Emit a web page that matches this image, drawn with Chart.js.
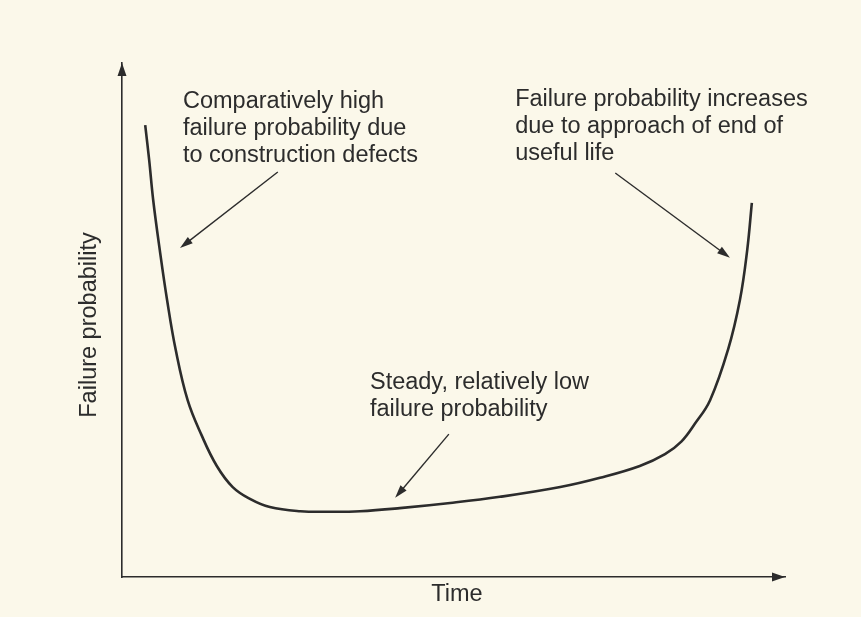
<!DOCTYPE html>
<html>
<head>
<meta charset="utf-8">
<script src="https://cdn.jsdelivr.net/npm/chart.js@4"></script>
<style>
  body { margin: 0; background: #fbf8ea; }
  canvas { display: block; }
</style>
</head>
<body>
<canvas id="bathtub" width="861" height="617"></canvas>
<script>
// Bathtub curve (time 0..100, probability 0..100)
const timeValues = [3.5, 4.1, 4.7, 5.7, 6.8, 8.1, 9.9, 12.0, 14.3, 16.7, 19.3, 22.3, 26.9, 31.4, 35.9, 41.9, 49.5, 57.0, 66.1, 72.1, 78.1, 81.9, 84.4, 86.4, 88.7, 91.4, 93.2, 94.3, 95.0];
const failureValues = [87.9, 81.1, 73.4, 63.6, 53.9, 44.2, 34.4, 27.6, 21.6, 17.5, 15.2, 13.6, 12.8, 12.7, 12.8, 13.4, 14.4, 15.6, 17.5, 19.3, 21.6, 23.9, 26.4, 29.8, 34.4, 44.2, 53.9, 63.6, 72.8];

const axisTitleX = 'Time';
const axisTitleY = 'Failure probability';

// callouts: text lines + arrow from/to, in data units
const notes = [
    { lines: ['Comparatively high', 'failure probability due', 'to construction defects'], at: [9.2, 92.6], from: [23.5, 78.8], to: [8.75, 64.0] },
    { lines: ['Failure probability increases', 'due to approach of end of', 'useful life'], at: [59.3, 92.8], from: [74.4, 78.6], to: [91.7, 62.1] },
    { lines: ['Steady, relatively low', 'failure probability'], at: [37.4, 37.9], from: [49.3, 27.8], to: [41.2, 15.4] }
];

const ink = '#2c2c2c';
const font = '23.5px "Liberation Sans", Arial, sans-serif';

function arrowHead(ctx, x1, y1, x2, y2, len, half) {
    const a = Math.atan2(y2 - y1, x2 - x1);
    ctx.beginPath();
    ctx.moveTo(x2, y2);
    ctx.lineTo(x2 - len * Math.cos(a) + half * Math.sin(a), y2 - len * Math.sin(a) - half * Math.cos(a));
    ctx.lineTo(x2 - len * Math.cos(a) - half * Math.sin(a), y2 - len * Math.sin(a) + half * Math.cos(a));
    ctx.closePath();
    ctx.fill();
}

const decorations = {
    id: 'decorations',
    afterDatasetsDraw(chart) {
        const { ctx, chartArea: area, scales: { x, y } } = chart;
        ctx.save();
        ctx.fillStyle = ink;
        ctx.strokeStyle = ink;

        // arrowheads on axes
        arrowHead(ctx, area.left, area.top + 20, area.left, area.top, 13, 4.5);
        arrowHead(ctx, area.right - 20, area.bottom, area.right, area.bottom, 13, 4.5);

        // callouts
        ctx.font = font;
        ctx.textAlign = 'left';
        ctx.textBaseline = 'middle';
        ctx.lineWidth = 1.4;
        notes.forEach(n => {
            const tx = x.getPixelForValue(n.at[0]);
            const ty = y.getPixelForValue(n.at[1]);
            n.lines.forEach((line, i) => ctx.fillText(line, tx, ty + i * 27));
            const x1 = x.getPixelForValue(n.from[0]), y1 = y.getPixelForValue(n.from[1]);
            const x2 = x.getPixelForValue(n.to[0]), y2 = y.getPixelForValue(n.to[1]);
            const a = Math.atan2(y2 - y1, x2 - x1);
            ctx.beginPath();
            ctx.moveTo(x1, y1);
            ctx.lineTo(x2 - 8 * Math.cos(a), y2 - 8 * Math.sin(a));
            ctx.stroke();
            arrowHead(ctx, x1, y1, x2, y2, 13, 4);
        });

        // axis titles
        ctx.textAlign = 'center';
        ctx.fillText(axisTitleX, 457, area.bottom + 18);
        ctx.translate(area.left - 32, 325);
        ctx.rotate(-Math.PI / 2);
        ctx.fillText(axisTitleY, 0, 0);
        ctx.restore();
    }
};

new Chart(document.getElementById('bathtub').getContext('2d'), {
    type: 'scatter',
    data: {
        datasets: [{
            data: timeValues.map((t, i) => ({ x: t, y: failureValues[i] })),
            showLine: true,
            borderColor: ink,
            borderWidth: 2.6,
            pointRadius: 0,
            tension: 0.4
        }]
    },
    options: {
        responsive: false,
        animation: false,
        layout: { padding: { left: 122, right: 76, top: 63, bottom: 40 } },
        plugins: { legend: { display: false }, tooltip: { enabled: false } },
        scales: {
            x: {
                type: 'linear', min: 0, max: 100,
                grid: { display: false, drawTicks: false },
                ticks: { display: false },
                border: { color: ink, width: 1.6 }
            },
            y: {
                min: 0, max: 100,
                grid: { display: false, drawTicks: false },
                ticks: { display: false },
                border: { color: ink, width: 1.6 }
            }
        }
    },
    plugins: [decorations]
});
</script>
</body>
</html>
